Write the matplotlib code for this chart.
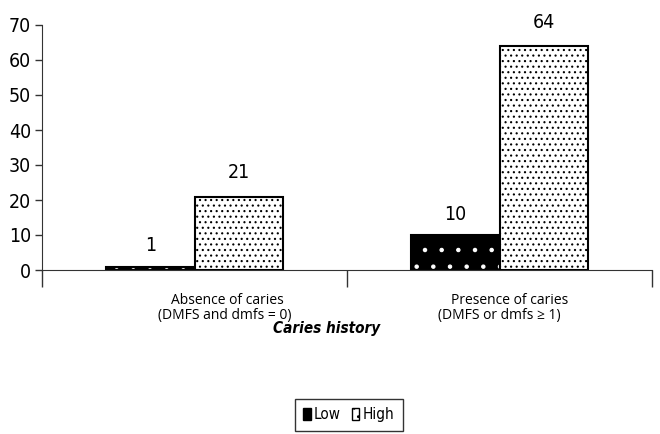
import numpy as np
import matplotlib
matplotlib.use("Agg")
import matplotlib.pyplot as plt
import matplotlib.transforms as mtransforms
from matplotlib.patches import Patch

line1 = ["Absence of caries", "Presence of caries"]
line2 = ["(DMFS and dmfs = 0)", "(DMFS or dmfs \u2265 1)"]
low = [1, 10]
high = [21, 64]
series = ["Low", "High"]

cond = dict(family="DejaVu Sans", stretch="condensed")
plt.rcParams["hatch.linewidth"] = 0.8

fig = plt.figure(figsize=(6.6, 4.34), dpi=100)
ax = fig.add_axes([42 / 660, 164 / 434, 610 / 660, 245 / 434])

x = np.arange(len(line1))
w = 0.29

# low bars: black with white dots, border drawn on top
ax.bar(x - w / 2, low, w, color="black", edgecolor="white", hatch=".", linewidth=0)
ax.bar(x - w / 2, low, w, fill=False, edgecolor="black", linewidth=1.5)
ax.bar(x + w / 2, high, w, color="white", edgecolor="black", hatch="...", linewidth=0)
ax.bar(x + w / 2, high, w, fill=False, edgecolor="black", linewidth=1.5)

for xi, v in zip(x - w / 2, low):
    ax.text(xi, v + 6, str(v), ha="center", va="center", fontsize=14, **cond)
for xi, v in zip(x + w / 2, high):
    ax.text(xi, v + 6.8, str(v), ha="center", va="center", fontsize=14, **cond)

ax.set_xlim(-0.5, 1.5)
ax.set_ylim(0, 70)
ax.set_yticks(range(0, 71, 10))
ax.set_yticklabels([str(t) for t in range(0, 71, 10)], fontsize=14, **cond)
ax.tick_params(axis="y", length=5, width=1, color="#333333", pad=3)
ax.set_xticks([-0.5, 0.5, 1.5])
ax.set_xticklabels([])
ax.tick_params(axis="x", length=12, width=1, color="#333333")
for s in ["top", "right"]:
    ax.spines[s].set_visible(False)
ax.spines["left"].set_color("#333333")
ax.spines["bottom"].set_color("#333333")

trans = mtransforms.blended_transform_factory(ax.transData, fig.transFigure)
x1 = [0.107, 1.034]
x2 = [0.1, 0.998]
for a, b, t1, t2 in zip(x1, x2, line1, line2):
    ax.text(a, 1 - 301 / 434, t1, ha="center", va="center", fontsize=10, family="Open Sans",
            transform=trans)
    ax.text(b, 1 - 315 / 434, t2, ha="center", va="center", fontsize=10, family="Open Sans",
            transform=trans)

fig.text(327 / 660, 1 - 329 / 434, "Caries history", ha="center", va="center", fontsize=11,
         fontweight="bold", fontstyle="italic", **cond)

handles = [Patch(facecolor="black", edgecolor="black"),
           Patch(facecolor="white", edgecolor="black", hatch="..")]
leg = fig.legend(handles, series, loc="upper left", bbox_to_anchor=(295 / 660, 1 - 399 / 434),
                 borderaxespad=0, ncol=2, frameon=True, fancybox=False,
                 handlelength=0.5, handleheight=0.9, handletextpad=0.2, columnspacing=0.7,
                 borderpad=0.55, prop=dict(size=11, **cond))
leg.get_frame().set_edgecolor("black")
leg.get_frame().set_linewidth(1)

fig.savefig("out.png", dpi=100)
